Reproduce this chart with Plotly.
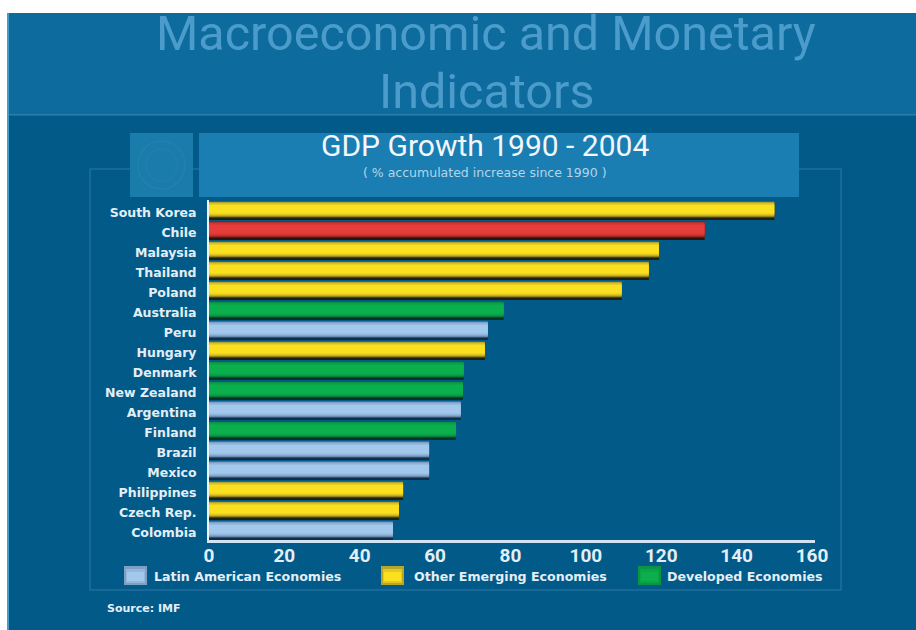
import plotly.graph_objects as go

countries = ["South Korea", "Chile", "Malaysia", "Thailand", "Poland", "Australia", "Peru", "Hungary",
             "Denmark", "New Zealand", "Argentina", "Finland", "Brazil", "Mexico", "Philippines",
             "Czech Rep.", "Colombia"]
growth = [150, 131.5, 119.4, 116.7, 109.5, 78.2, 74, 73.2, 67.6, 67.4, 66.8, 65.5, 58.4, 58.4, 51.5, 50.4, 48.8]
groups = ["emerging", "chile", "emerging", "emerging", "emerging", "developed", "latin", "emerging",
          "developed", "developed", "latin", "developed", "latin", "latin", "emerging", "emerging", "latin"]
x_ticks = [0, 20, 40, 60, 80, 100, 120, 140, 160]
legend_labels = ["Latin American Economies", "Other Emerging Economies", "Developed Economies"]
legend_groups = ["latin", "emerging", "developed"]

W, H = 916, 630
LEFT, RIGHT, TOP, BOTTOM = 209, 815, 200, 540
FONT = "Roboto"
WIDE_FONT = "DejaVu Sans"
TEXT = "#e4eef6"

# shades of each bar colour, from the shadow under the bar to its bright centre
shades = {
    "emerging": ("#241e04", "#6e6418", "#b8a628", "#e2c822", "#fbe020"),
    "chile": ("#34100a", "#7c2018", "#b8302c", "#d63634", "#e63c3a"),
    "developed": ("#0a3324", "#0a6636", "#0a9444", "#0aa548", "#0bb04c"),
    "latin": ("#102c48", "#56789c", "#7f9fc4", "#92b8de", "#a2c9ec"),
}
# bar layers: offset and width as fractions of one category step, and the shade they use
layers = [(-0.40, 0.90, 0), (-0.44, 0.82, 1), (-0.40, 0.72, 2), (-0.34, 0.60, 3), (-0.26, 0.44, 4)]


def px(x):
    return (x - LEFT) / (RIGHT - LEFT)


def py(y):
    return (BOTTOM - y) / (BOTTOM - TOP)


def rect(x0, y0, x1, y1, fill, line=None, width=0, layer="below"):
    return dict(type="rect", xref="paper", yref="paper", x0=px(x0), x1=px(x1), y0=py(y0), y1=py(y1),
                fillcolor=fill, line=dict(color=line or fill, width=width), layer=layer)


def label(x, y, text, size, color=TEXT, anchor="center", bold=False, family=FONT):
    body = f"<b>{text}</b>" if bold else text
    return dict(xref="paper", yref="paper", x=px(x), y=py(y), text=body, showarrow=False, xanchor=anchor,
                yanchor="middle", font=dict(family=family, size=size, color=color))


fig = go.Figure()
for offset, width, shade in layers:
    fig.add_trace(go.Bar(
        x=growth, y=countries, orientation="h", offset=offset, width=width,
        marker=dict(color=[shades[g][shade] for g in groups], line=dict(width=0)),
        hoverinfo="x+y", showlegend=False,
    ))

shapes = [
    rect(7, 13, W, H, "#015a88"),                # slide background
    rect(7, 13, 9, H, "#3f9fca"),                # light left edge
    rect(9, 13, W, 114, "#0e6b9e"),              # heading band
    rect(9, 114, W, 115.5, "#2a80ad"),
    rect(90, 169, 841, 590, "rgba(0,0,0,0)", "#1f6f9c", 1.5),  # chart frame
    rect(130, 133, 193, 197, "#1a7cab"),         # emblem tile
    rect(199, 133, 799, 197, "#1b7eb2"),         # chart heading tile
]
for inset, colour in [(8, "#2482b0"), (16, "#2080ae")]:
    shapes.append(dict(type="circle", xref="paper", yref="paper", layer="below",
                       x0=px(130 + inset), x1=px(193 - inset), y0=py(197 - inset), y1=py(133 + inset),
                       line=dict(color=colour, width=1.2), fillcolor="rgba(0,0,0,0)"))

annotations = [
    label(486, 33, "Macroeconomic and Monetary", 48.5, "#4c9ccb"),
    label(486, 91, "Indicators", 48.5, "#4c9ccb"),
    label(485, 146, "GDP Growth 1990 - 2004", 30, "#f2f7fb"),
    label(485, 172, "( % accumulated increase since 1990 )", 12.5, "#b5d4e8", family=WIDE_FONT),
    label(105, 608, "Source: IMF", 11, anchor="left", bold=True, family=WIDE_FONT),
]

swatch_x = [124, 381, 638]
text_x = [152, 412, 665]
for sx, tx, name, grp in zip(swatch_x, text_x, legend_labels, legend_groups):
    ramp = shades[grp]
    shapes.append(rect(sx, 566, sx + 23, 585, ramp[2]))
    shapes.append(rect(sx + 2, 569, sx + 21, 583, ramp[3]))
    shapes.append(rect(sx + 3, 572, sx + 20, 581, ramp[4]))
    annotations.append(label(tx, 576, name, 12.6, anchor="left", bold=True, family=WIDE_FONT))

fig.update_layout(
    width=W, height=H, autosize=False,
    margin=dict(l=LEFT, r=W - RIGHT, t=TOP, b=H - BOTTOM, pad=0),
    paper_bgcolor="white", plot_bgcolor="rgba(0,0,0,0)",
    barmode="overlay", showlegend=False,
    shapes=shapes, annotations=annotations,
    font=dict(family=FONT, color=TEXT),
    xaxis=dict(range=[0, 160.8], tickvals=x_ticks, showgrid=False, zeroline=False,
               showline=True, linecolor="#cfe3f2", linewidth=3, ticks="", ticklabelstandoff=-4,
               tickfont=dict(family=FONT, size=19, color=TEXT, weight="bold")),
    yaxis=dict(autorange=False, range=[16.5, -0.5], type="category", showgrid=False, zeroline=False,
               showline=True, linecolor="#eef5fa", linewidth=2, ticks="", ticklabelstandoff=8,
               ticklabelshift=-3,
               tickfont=dict(family=WIDE_FONT, size=12.5, color=TEXT, weight="bold")),
)

fig.write_html("out.html")
